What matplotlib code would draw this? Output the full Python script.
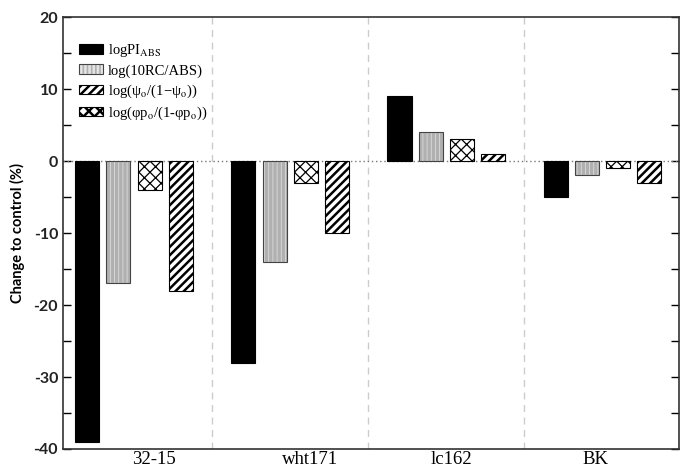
import matplotlib
matplotlib.use("Agg")
import matplotlib.pyplot as plt
from matplotlib.legend_handler import HandlerTuple
import numpy as np

# Datos
grupos = ["32-15", "wht171", "lc162", "BK"]
log_pi_abs = [-39, -28, 9, -5]
log_rc_abs = [-17, -14, 4, -2]
log_phi_po = [-4, -3, 3, -1]      # barra cuadriculada (3a posicion)
log_psi_o = [-18, -10, 1, -3]     # barra rayada (4a posicion)

etiquetas = [r"logPI$_{\rm ABS}$",
             "log(10RC/ABS)",
             r"log(ψ$_{\rm o}$/(1−ψ$_{\rm o}$))",
             r"log(φp$_{\rm o}$/(1-φp$_{\rm o}$))"]

plt.rcParams["mathtext.fontset"] = "stix"
plt.rcParams["axes.unicode_minus"] = False

fig = plt.figure(figsize=(6.8, 4.68), dpi=100)
ax = fig.add_axes([0.0926, 0.0406, 0.906, 0.923])

x = np.arange(len(grupos))
ancho = 0.154
paso = 0.2
off = [-1.5 * paso, -0.5 * paso, 0.5 * paso, 1.5 * paso]

# Barras negras
b1 = ax.bar(x + off[0], log_pi_abs, ancho, color="black", edgecolor="black",
            linewidth=0.8, zorder=3)

# Barras punteadas (gris)
plt.rcParams["hatch.linewidth"] = 0.5
b2 = ax.bar(x + off[1], log_rc_abs, ancho, color="#b0b0b0", edgecolor="#e4e4e4",
            hatch="||||", linewidth=0, zorder=3)
b2o = ax.bar(x + off[1], log_rc_abs, ancho, fill=False, edgecolor="#444444",
             linewidth=0.8, zorder=4)

# Barras cuadriculadas
plt.rcParams["hatch.linewidth"] = 0.9
b4 = ax.bar(x + off[2], log_phi_po, ancho, color="white", edgecolor="black",
            hatch="xxx", linewidth=0.8, zorder=3)

# Barras rayadas
plt.rcParams["hatch.linewidth"] = 1.8
b3 = ax.bar(x + off[3], log_psi_o, ancho, color="white", edgecolor="black",
            hatch="////", linewidth=0.8, zorder=3)

# Linea de cero y separadores
ax.axhline(0, color="#777777", linestyle=(0, (1, 2)), linewidth=1, zorder=2)
for xs in [0.5, 1.5, 2.5]:
    ax.axvline(xs, color="#cccccc", linestyle=(0, (5, 4)), linewidth=1, zorder=1)

ax.set_xlim(-0.455, 3.49)
ax.set_ylim(-40, 20)
ax.set_yticks(range(-40, 21, 10))
ax.set_yticks(range(-35, 20, 10), minor=True)
ax.tick_params(axis="y", which="both", direction="in", right=True, length=6,
               width=1, labelsize=11.5)
ax.tick_params(axis="x", length=0, pad=1.5)
# las etiquetas del original no estan centradas en cada grupo
desplaz = [0.13, 0.13, 0.03, -0.045]
ax.set_xticks(x + np.array(desplaz))
ax.set_xticklabels(grupos, fontsize=13.5, family="Liberation Serif")
for t in ax.get_yticklabels():
    t.set_family("Lato")
    t.set_fontweight("bold")
    t.set_color("#222222")

for s in ax.spines.values():
    s.set_linewidth(1.2)
    s.set_color("#333333")

ax.set_ylabel("Change to control (%)", fontsize=10.5, family="Lato",
              fontweight="bold", labelpad=6)

ax.legend([b1, (b2, b2o), b3, b4], etiquetas, loc="upper left",
          bbox_to_anchor=(0.017, 0.955), frameon=False,
          prop={"family": "Liberation Serif", "size": 10.5},
          handler_map={tuple: HandlerTuple(ndivide=1, pad=0)},
          handlelength=1.65, handleheight=0.65, labelspacing=0.33,
          handletextpad=0.3, borderaxespad=0)

fig.savefig("out.png", dpi=100)
